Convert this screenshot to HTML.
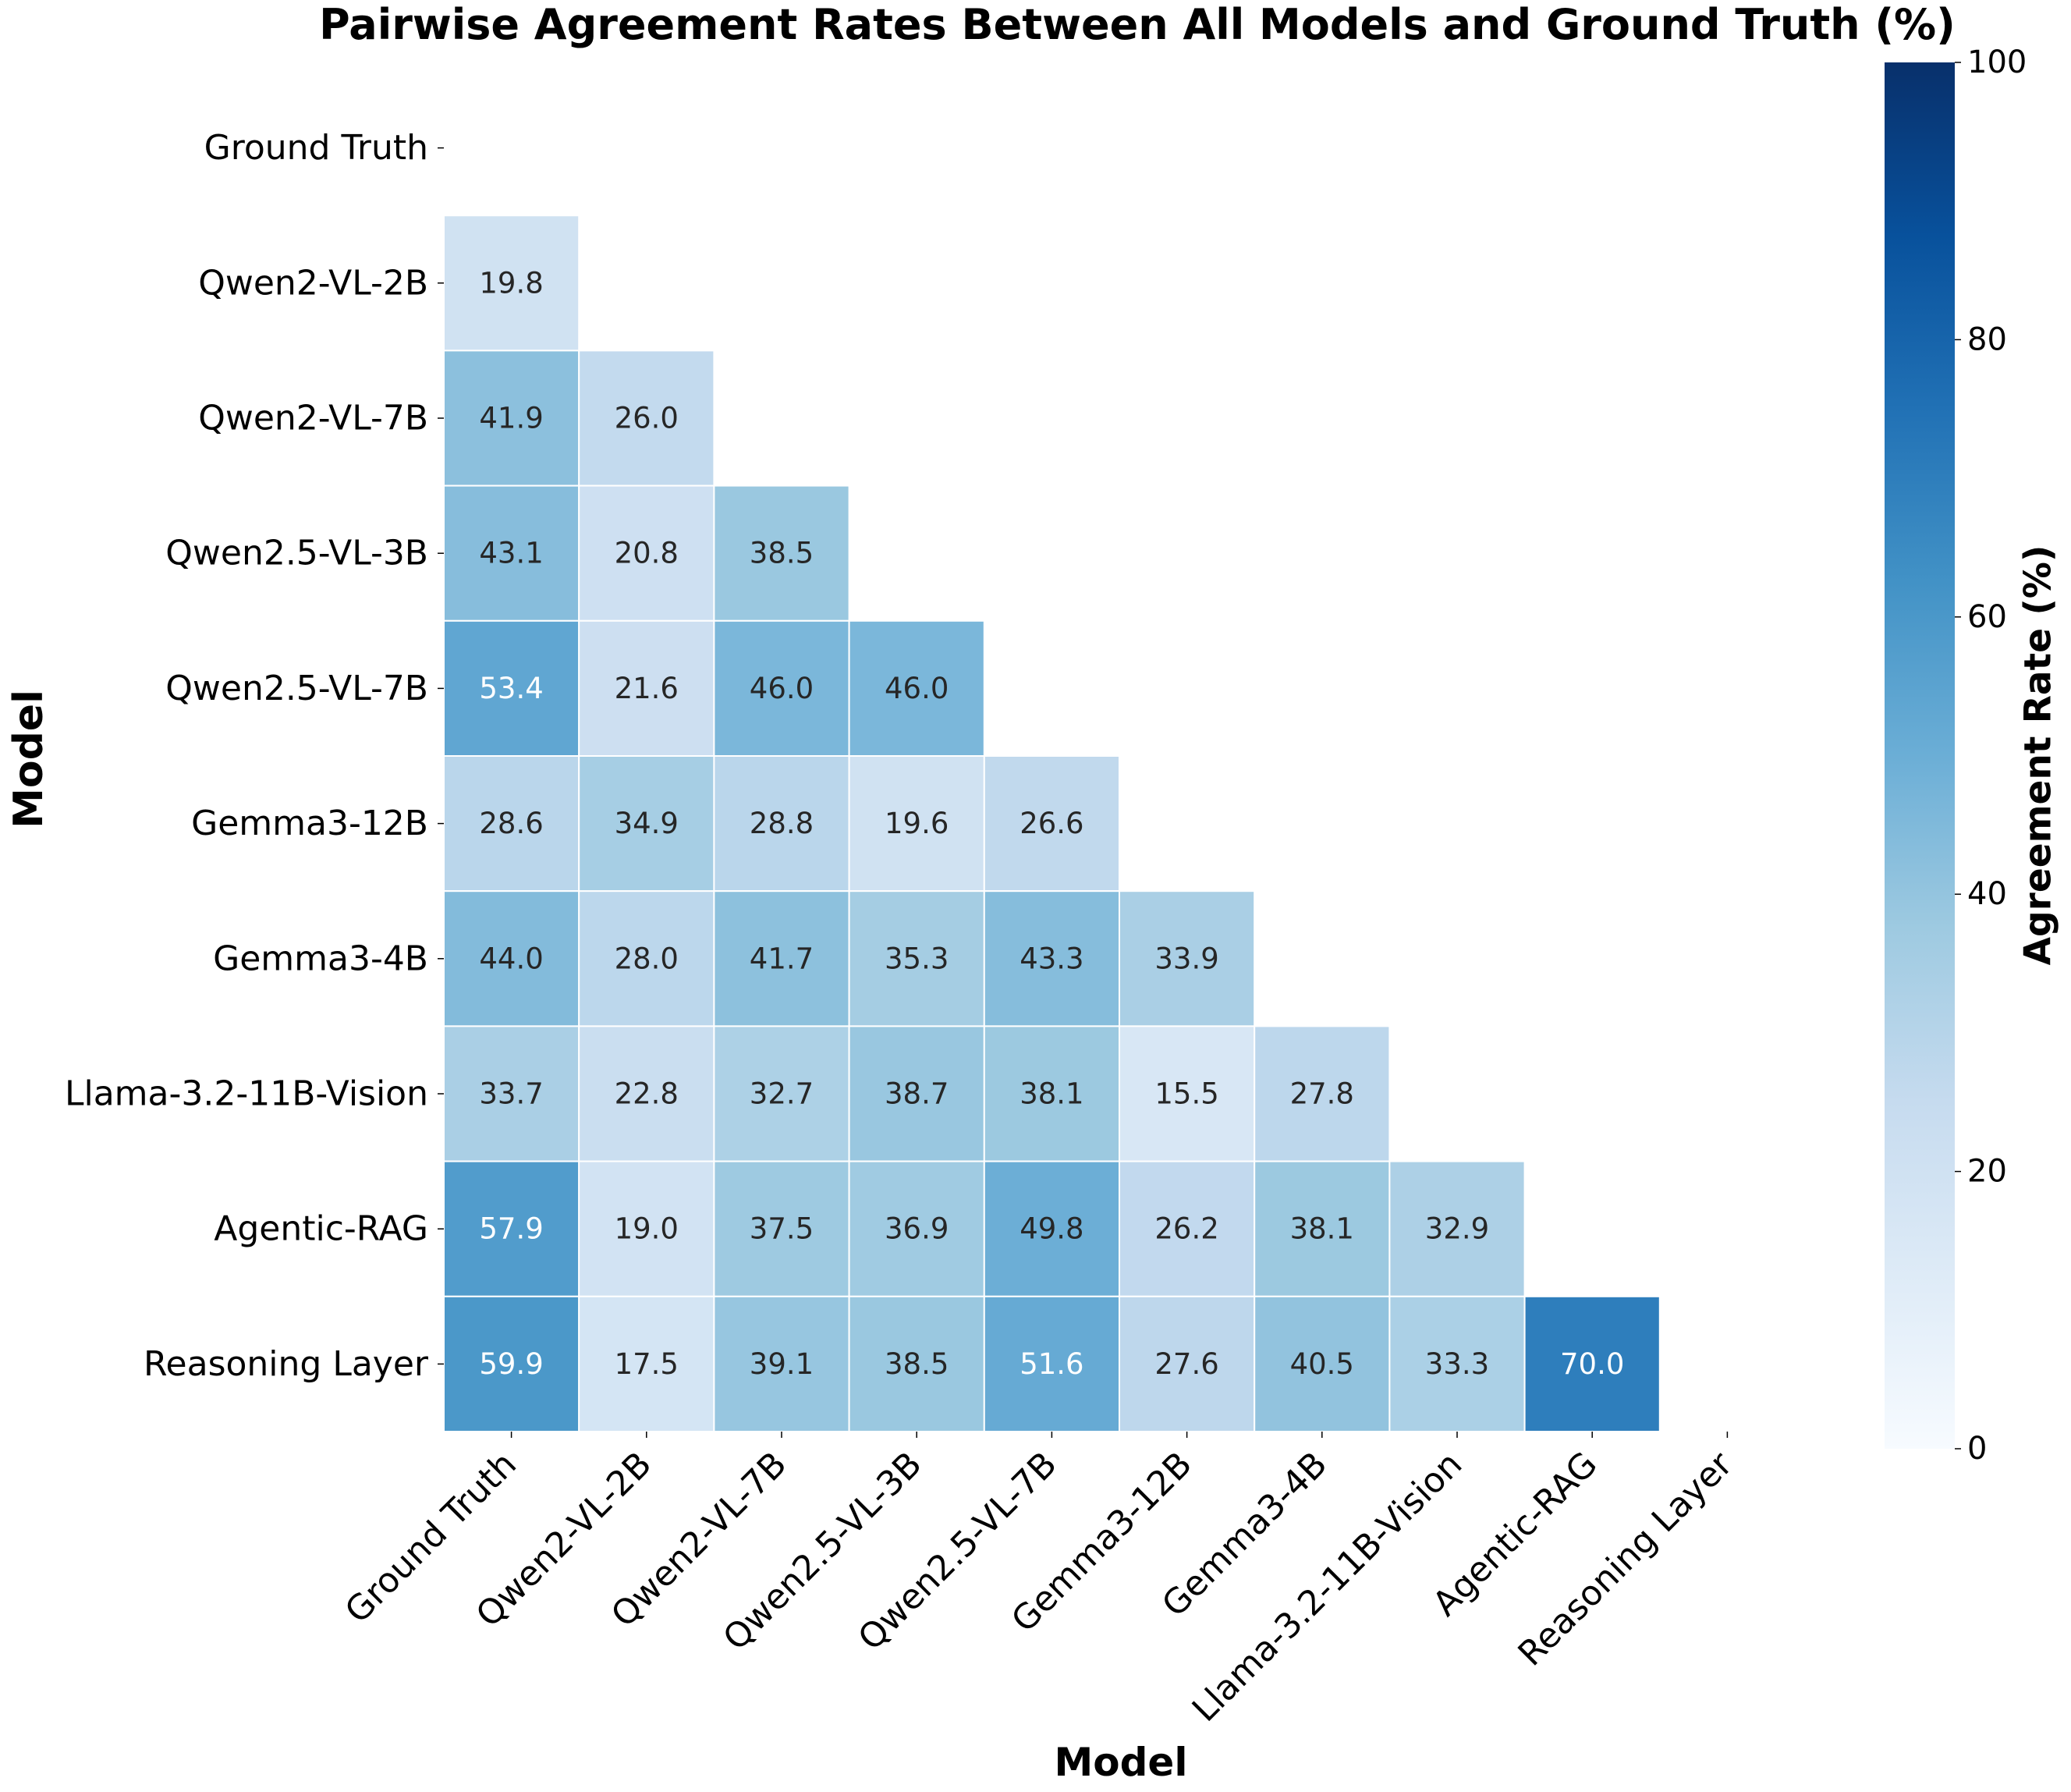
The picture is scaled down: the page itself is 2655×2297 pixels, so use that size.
<!DOCTYPE html>
<html><head><meta charset="utf-8"><style>body{margin:0;background:#fff}svg{display:block}text{font-family:"DejaVu Sans","Liberation Sans",sans-serif}</style></head>
<body>
<svg id="chart" width="2655" height="2297" viewBox="0 0 2655 2297" xmlns="http://www.w3.org/2000/svg">
<text x="1458" y="50" text-anchor="middle" font-size="54" font-weight="bold">Pairwise Agreement Rates Between All Models and Ground Truth (%)</text>
<g id="cells"></g>
<g id="ticks"></g>
<text x="1437" y="2276" text-anchor="middle" font-size="50" font-weight="bold">Model</text>
<text transform="translate(40,973) rotate(-90)" text-anchor="middle" dominant-baseline="middle" font-size="52" font-weight="bold">Model</text>
<defs><linearGradient id="cg" x1="0" y1="1" x2="0" y2="0">
<stop offset="0" stop-color="#f7fbff"/><stop offset="0.125" stop-color="#deebf7"/><stop offset="0.25" stop-color="#c6dbef"/><stop offset="0.375" stop-color="#9ecae1"/><stop offset="0.5" stop-color="#6baed6"/><stop offset="0.625" stop-color="#4292c6"/><stop offset="0.75" stop-color="#2171b5"/><stop offset="0.875" stop-color="#08519c"/><stop offset="1" stop-color="#08306b"/></linearGradient></defs>
<rect x="2416" y="80" width="90" height="1777" fill="url(#cg)"/>
<g id="cbticks"></g>
<text transform="translate(2616,968) rotate(-90)" text-anchor="middle" dominant-baseline="middle" font-size="47" font-weight="bold">Agreement Rate (%)</text>
</svg>
<script>
const models=["Ground Truth","Qwen2-VL-2B","Qwen2-VL-7B","Qwen2.5-VL-3B","Qwen2.5-VL-7B","Gemma3-12B","Gemma3-4B","Llama-3.2-11B-Vision","Agentic-RAG","Reasoning Layer"];
const row1=[19.8];
const row2=[41.9,26.0];
const row3=[43.1,20.8,38.5];
const row4=[53.4,21.6,46.0,46.0];
const row5=[28.6,34.9,28.8,19.6,26.6];
const row6=[44.0,28.0,41.7,35.3,43.3,33.9];
const row7=[33.7,22.8,32.7,38.7,38.1,15.5,27.8];
const row8=[57.9,19.0,37.5,36.9,49.8,26.2,38.1,32.9];
const row9=[59.9,17.5,39.1,38.5,51.6,27.6,40.5,33.3,70.0];
const rows=[[],row1,row2,row3,row4,row5,row6,row7,row8,row9];
const cbTicks=[0,20,40,60,80,100];
const NS="http://www.w3.org/2000/svg";
const L=569,T=103,C=173.2,CBT=80,CBB=1857;
const xs=i=>L+i*C, ys=i=>T+i*C, cy=v=>CBB-(v/100)*(CBB-CBT);
const stops=[[247,251,255],[222,235,247],[198,219,239],[158,202,225],[107,174,214],[66,146,198],[33,113,181],[8,81,156],[8,48,107]];
function col(v){let t=Math.max(0,Math.min(1,v/100))*8,i=Math.min(7,Math.floor(t)),f=t-i;const a=stops[i],b=stops[i+1];return `rgb(${a.map((x,k)=>Math.round(x+(b[k]-x)*f)).join(',')})`;}
function mk(tag,at,p){const e=document.createElementNS(NS,tag);for(const k in at)e.setAttribute(k,at[k]);p.appendChild(e);return e;}
const cg=document.getElementById('cells'),tg=document.getElementById('ticks'),cb=document.getElementById('cbticks');
rows.forEach((r,i)=>r.forEach((v,j)=>{
 const rc=mk('rect',{x:xs(j),y:ys(i),width:C,height:C,fill:col(v),stroke:'#fff','stroke-width':2},cg);
 
 
 const t=mk('text',{x:xs(j)+C/2,y:ys(i)+C/2,'text-anchor':'middle','dominant-baseline':'central','font-size':37,fill:v>50?'#fff':'#262626'},cg);
 t.textContent=v.toFixed(1);
 
 
}));
models.forEach((m,i)=>{
 const y=ys(i)+C/2;
 mk('line',{x1:L-8,x2:L,y1:y,y2:y,stroke:'#000','stroke-width':1.5},tg);
 const t=mk('text',{x:L-20,y:y,'text-anchor':'end','dominant-baseline':'central','font-size':44},tg);
 t.textContent=m;
 
 
 const x=xs(i)+C/2,by=T+10*C;
 mk('line',{x1:x,x2:x,y1:by,y2:by+8,stroke:'#000','stroke-width':1.5},tg);
 const u=mk('text',{transform:`translate(${x-14},${by+22}) rotate(-45)`,'text-anchor':'end','dominant-baseline':'hanging','font-size':44},tg);
 u.textContent=m;
 
 
});
cbTicks.forEach(v=>{
 const y=cy(v);
 mk('line',{x1:2506,x2:2514,y1:y,y2:y,stroke:'#000','stroke-width':1.5},cb);
 const t=mk('text',{x:2522,y:y,'dominant-baseline':'central','font-size':40},cb);
 t.textContent=v;
 
 
});
</script>
</body></html>
